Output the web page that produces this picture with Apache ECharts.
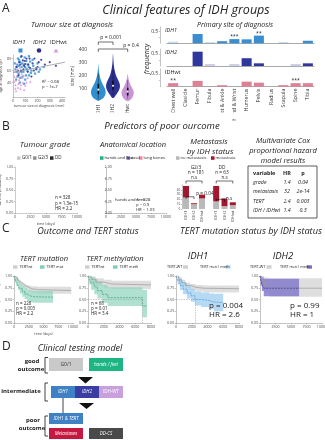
<!DOCTYPE html>
<html>
<head>
<meta charset="utf-8">
<script src="https://cdn.jsdelivr.net/npm/echarts@6/dist/echarts.min.js"></script>
<style>
html,body{margin:0;padding:0;background:#fff}
#chart{width:325px;height:440px}
</style>
</head>
<body>
<div id="chart"></div>
<script>
// ---------- data ----------
// A: tumour size (mm) vs age at diagnosis (yr)
const scatterIdh1 = [[20,62],[35,70],[45,55],[50,78],[60,48],[70,66],[75,72],[85,58],[95,82],[100,45],[110,63],[120,70],[130,52],[140,75],[150,60],[165,68],[180,55],[200,72],[220,62],[25,45],[55,40],[90,38],[40,80],[130,84],[250,66],[30,58],[65,83],[105,52],
  [15,72],[28,66],[38,50],[48,68],[58,74],[68,58],[78,50],[88,70],[98,66],[108,76],[118,60],[128,66],[145,56],[160,78],[190,64],[210,58]];
const scatterIdh2 = [[30,66],[50,74],[65,60],[80,77],[90,68],[110,80],[120,58],[140,64],[160,72],[175,80],[200,66],[230,78],[260,70],[300,74],[45,52],[70,84],[100,71],[150,50],[190,62],[350,68],
  [40,60],[60,70],[85,62],[95,76],[125,70],[135,80],[170,60],[210,74]];
const scatterIdhwt = [[10,42],[20,36],[30,50],[40,32],[50,45],[60,30],[70,55],[80,40],[100,35],[15,58],[120,48],[35,62],[90,28],[140,42],[25,26],[55,65],[75,48],
  [12,50],[22,44],[45,38],[65,36],[85,52],[110,40],[18,30],[50,58]];
const sizeAgeFit = [[0,57],[424,74]];

// A: violin profiles [size, relative density]
const violinGroups = ['IDH1','IDH2','IDHwt'];
const violinIdh1 = [[10,0.1],[25,0.55],[45,0.85],[70,1],[95,0.95],[120,0.75],[150,0.48],[180,0.28],[215,0.14],[250,0.06],[290,0.01]];
const violinIdh2 = [[30,0.08],[50,0.35],[75,0.65],[100,0.88],[125,0.95],[150,0.85],[180,0.6],[210,0.38],[250,0.2],[300,0.08],[340,0.04],[370,0.01]];
const violinIdhwt = [[10,0.2],[30,0.6],[55,0.8],[80,0.82],[105,0.62],[130,0.4],[160,0.2],[190,0.08],[215,0.01]];
const violinMedian = [95,125,80];
const violinQ1 = [60,95,50];
const violinQ3 = [140,165,110];
const violinWhiskLo = [20,50,25];
const violinWhiskHi = [220,250,170];

// A: primary site frequency
const siteCats = ['Chest wall','Clavicle','Femur','Fibula','Foot & Ankle','Hand & Wrist','Humerus','Pelvis','Radius','Scapula','Spine','Tibia'];
const siteIdh1 = [0.07,0,0.40,0.05,0.09,0.18,0.17,0.33,0,0.05,0,0.11];
const siteIdh2 = [0,0,0.59,0.08,0,0.08,0.32,0.11,0,0,0.08,0.11];
const siteIdhwt = [0.14,0,0.23,0.02,0.06,0,0.20,0.16,0,0.06,0.14,0.14];
const sigIdh1 = ['','','','','','***','','**','','','',''];
const sigIdh2 = ['','','','','','','','','','','',''];
const sigIdhwt = ['**','','','','','','','','','','***',''];
const alphaIdh1 = [0.3,1,1,0.3,1,1,1,1,1,0.3,1,1];
const alphaIdh2 = [1,1,1,0.25,1,0.25,1,1,1,1,0.25,1];
const alphaIdhwt = [1,1,1,0.6,1,1,1,1,1,1,1,1];

// B: metastasis counts
const metaGroups = ['IDH1','IDH2','IDHwt'];
const g23NoMet = [24,10,22];
const g23Met = [24,2,8];
const ddNoMet = [16,6,8];
const ddMet = [32,16,6];

// B: Cox model
const coxVars = ['grade','metastasis','TERT','IDH / IDHwt'];
const coxHR = ['1.4','32','2.4','1.4'];
const coxP = ['0.04','2e-14','0.003','0.3'];

// C: Kaplan-Meier rows [time, surv, lower, upper]
const tertMutWt = [[0,1,1,1],[300,0.96,0.93,0.99],[600,0.91,0.88,0.95],[900,0.87,0.83,0.91],[1200,0.83,0.79,0.87],[1600,0.79,0.75,0.84],[2000,0.76,0.71,0.81],[2500,0.73,0.67,0.79],[3000,0.71,0.65,0.78],[4000,0.69,0.62,0.77],[9700,0.69,0.62,0.77]];
const tertMutMut = [[0,1,1,1],[150,0.94,0.88,0.99],[400,0.86,0.78,0.95],[700,0.79,0.70,0.89],[1000,0.73,0.63,0.84],[1400,0.67,0.56,0.79],[1800,0.62,0.51,0.75],[2200,0.58,0.47,0.71],[2700,0.56,0.44,0.69],[3200,0.55,0.43,0.68],[6600,0.55,0.43,0.68]];
const tertMethWt = [[0,1,1,1],[400,0.93,0.86,0.99],[1000,0.87,0.79,0.95],[2000,0.83,0.74,0.92],[3000,0.81,0.72,0.90],[8000,0.81,0.72,0.90]];
const tertMethMeth = [[0,1,1,1],[150,0.93,0.82,1],[400,0.85,0.71,0.98],[800,0.77,0.61,0.93],[1200,0.69,0.52,0.88],[1800,0.61,0.43,0.81],[2500,0.54,0.36,0.76],[6900,0.36,0.12,0.70],[7500,0.36,0.12,0.70]];
const tertMethMedian = 6900;
const idh1Wt = [[0,1,1,1],[300,0.93,0.88,0.98],[700,0.86,0.81,0.92],[1200,0.80,0.75,0.86],[1800,0.76,0.70,0.83],[2500,0.74,0.67,0.81],[3500,0.73,0.65,0.80],[8000,0.73,0.65,0.80]];
const idh1Mut = [[0,1,1,1],[200,0.90,0.82,0.99],[500,0.80,0.70,0.92],[900,0.72,0.61,0.85],[1400,0.64,0.52,0.78],[1900,0.58,0.45,0.73],[2400,0.50,0.37,0.67],[3200,0.48,0.34,0.65],[4200,0.45,0.30,0.63],[4800,0.43,0.25,0.62],[6000,0.43,0.25,0.62]];
const idh1Median = 2400;
const idh2Wt = [[0,1,1,1],[300,0.90,0.78,1],[700,0.80,0.65,0.97],[1500,0.74,0.56,0.95],[10000,0.74,0.56,0.95]];
const idh2Mut = [[0,1,1,1],[100,0.92,0.80,1],[300,0.82,0.68,0.97],[600,0.74,0.57,0.94],[6300,0.74,0.57,0.94]];

const kmTicks10 = [0,2500,5000,7500,10000];
const kmTicks8 = [0,2000,4000,6000,8000];
const survTicks = [0,0.25,0.5,0.75,1];

// ---------- helpers ----------
const FONT = "'Open Sans', 'DejaVu Sans', sans-serif";
const AX = '#888';

function merge(a, b) {
  const out = Object.assign({}, a);
  for (const k in b) {
    if (b[k] && typeof b[k] === 'object' && !Array.isArray(b[k]) && a[k] && typeof a[k] === 'object') {
      out[k] = Object.assign({}, a[k], b[k]);
    } else out[k] = b[k];
  }
  return out;
}
function axis(gridIndex, o) {
  return merge({
    gridIndex: gridIndex,
    splitLine: {show: false},
    axisLine: {show: true, lineStyle: {color: AX, width: 0.5}},
    axisTick: {show: true, length: 1.2, lineStyle: {color: AX, width: 0.5}},
    axisLabel: {fontSize: 3.6, color: '#444', margin: 1.8, fontFamily: FONT},
    nameTextStyle: {fontSize: 3.6, color: '#444', fontFamily: FONT}
  }, o || {});
}
function T(x, y, text, size, o) {
  o = o || {};
  const font = (o.italic ? 'italic ' : '') + (o.bold ? 'bold ' : '') + size + 'px ' + FONT;
  return {
    type: 'text', z: 60, x: x, y: y, rotation: o.rot || 0,
    style: {x: 0, y: 0, text: text, font: font, fill: o.color || '#222',
      textAlign: o.align || 'center', align: o.align || 'center',
      textVerticalAlign: 'middle', verticalAlign: 'middle'}
  };
}
function R(x, y, w, h, fill, o) {
  o = o || {};
  return {type: 'rect', z: o.z || 55, shape: {x: x, y: y, width: w, height: h},
    style: {fill: fill, stroke: o.stroke || null, lineWidth: o.lw || 0}};
}
function P(points, o) {
  o = o || {};
  return {type: 'polyline', z: 58, shape: {points: points}, style: {stroke: o.color || '#111', lineWidth: o.lw || 0.6, fill: null}};
}
function TRI(points, fill) {
  return {type: 'polygon', z: 58, shape: {points: points}, style: {fill: fill}};
}

function kmBand(g, rows, color, opacity) {
  return {
    type: 'custom', xAxisIndex: g, yAxisIndex: g, clip: true, silent: true, z: 1,
    data: rows,
    renderItem: function (params, api) {
      if (params.dataIndex !== 0) return null;
      const top = [], bot = [];
      for (let i = 0; i < rows.length - 1; i++) {
        top.push(api.coord([rows[i][0], rows[i][3]]), api.coord([rows[i + 1][0], rows[i][3]]));
        bot.push(api.coord([rows[i][0], rows[i][2]]), api.coord([rows[i + 1][0], rows[i][2]]));
      }
      return {type: 'polygon', shape: {points: top.concat(bot.reverse())}, style: {fill: color, opacity: opacity}};
    }
  };
}
function kmLine(g, rows, color, dashed, median) {
  const s = {
    type: 'line', xAxisIndex: g, yAxisIndex: g, step: 'end', symbol: 'none', z: 3, silent: true,
    data: rows.map(r => [r[0], r[1]]),
    lineStyle: {color: color, width: 0.7, type: dashed ? [2, 1] : 'solid'}
  };
  if (median != null) {
    s.markLine = {silent: true, symbol: 'none', label: {show: false},
      lineStyle: {color: '#999', width: 0.5, type: [1.5, 1]},
      data: [[{coord: [0, 0.5]}, {coord: [median, 0.5]}], [{coord: [median, 0.5]}, {coord: [median, 0]}]]};
  }
  return s;
}
function siteBar(g, vals, alpha, sig, color) {
  return {
    type: 'bar', xAxisIndex: g, yAxisIndex: g, barCategoryGap: '18%', silent: true,
    label: {position: 'top', distance: 0, fontSize: 5, color: '#222', fontFamily: FONT},
    data: vals.map((v, i) => ({value: v, itemStyle: {color: color, opacity: alpha[i]},
      label: {show: !!sig[i], formatter: sig[i]}}))
  };
}

// ---------- grids ----------
const grids = [
  {left: 13, top: 55, width: 52, height: 42},      // 0 scatter
  {left: 91, top: 50, width: 44, height: 52},      // 1 violin
  {left: 167, top: 27, width: 147, height: 16.3},  // 2 site IDH1
  {left: 167, top: 49, width: 147, height: 17},    // 3 site IDH2
  {left: 167, top: 69, width: 147, height: 17.7},  // 4 site IDHwt
  {left: 15, top: 167, width: 62, height: 46},     // 5 KM grade
  {left: 106, top: 167, width: 60, height: 46},    // 6 KM location
  {left: 182, top: 185, width: 24, height: 24},    // 7 metastasis G2/3
  {left: 212, top: 185, width: 25, height: 24},    // 8 metastasis DD
  {left: 14, top: 276, width: 59, height: 47},     // 9 TERT mutation
  {left: 88, top: 276, width: 63, height: 47},     // 10 TERT methylation
  {left: 176, top: 276, width: 63, height: 47},    // 11 IDH1
  {left: 260, top: 276, width: 62, height: 47}     // 12 IDH2
].map(g => Object.assign({show: false, containLabel: false, outerBoundsMode: 'none'}, g));

const survY = g => axis(g, {type: 'value', min: 0, max: 1,
  axisLabel: {customValues: survTicks, formatter: v => v.toFixed(2)}, axisTick: {customValues: survTicks}});
const timeX = (g, max, ticks) => axis(g, {type: 'value', min: 0, max: max,
  axisLabel: {customValues: ticks, formatter: v => String(v)}, axisTick: {customValues: ticks}});
const siteX = (g, showLabel) => axis(g, {type: 'category', data: siteCats,
  axisTick: {show: false}, axisLine: {lineStyle: {color: '#aaa'}},
  axisLabel: {show: showLabel, rotate: 90, fontSize: 5.2, color: '#333', margin: 2, interval: 0}});
const siteY = g => axis(g, {type: 'value', min: 0, max: 0.7, offset: 7,
  axisLabel: {customValues: [0.5], fontSize: 5, color: '#333'}, axisTick: {customValues: [0.25, 0.5]}});
const metaX = g => axis(g, {type: 'category', data: metaGroups, axisTick: {show: false},
  axisLine: {show: false}, axisLabel: {rotate: 90, fontSize: 4, margin: 1.5, color: '#333', interval: 0}});

const xAxes = [
  axis(0, {type: 'value', min: 0, max: 424, name: 'tumour size at diagnosis (mm)', nameLocation: 'middle', nameGap: 5,
    axisLabel: {customValues: [0,100,200,300,400]}, axisTick: {customValues: [0,100,200,300,400]}}),
  axis(1, {type: 'category', data: violinGroups, axisLine: {show: false}, axisTick: {show: false},
    axisLabel: {rotate: 90, fontSize: 5, margin: 2, color: '#333', interval: 0}}),
  siteX(2, false), siteX(3, false), siteX(4, true),
  merge(timeX(5, 10000, kmTicks10), {name: 'time (days)', nameLocation: 'middle', nameGap: 9, axisLine: {lineStyle: {color: '#ccc'}}}),
  timeX(6, 10000, kmTicks10),
  metaX(7), metaX(8),
  merge(timeX(9, 10000, kmTicks10), {name: 'time (days)', nameLocation: 'middle', nameGap: 9}),
  timeX(10, 8000, kmTicks8),
  timeX(11, 8000, kmTicks8),
  timeX(12, 10000, kmTicks10)
];
const yAxes = [
  axis(0, {type: 'value', min: 16, max: 86, name: 'age at diagnosis (yr)', nameLocation: 'middle', nameGap: 7, nameRotate: 90,
    axisLabel: {customValues: [40,60,80]}, axisTick: {customValues: [40,60,80]}}),
  axis(1, {type: 'value', min: 0, max: 400, name: 'size (mm)', nameLocation: 'middle', nameGap: 15, nameRotate: 90,
    axisLine: {show: false}, axisTick: {show: false},
    nameTextStyle: {fontSize: 4.5, color: '#333'},
    axisLabel: {customValues: [100,200,300,400], fontSize: 4.8, color: '#333', margin: 4}}),
  siteY(2), siteY(3), siteY(4),
  merge(survY(5), {name: 'survival probability', nameLocation: 'middle', nameGap: 10, nameRotate: 90, axisLine: {lineStyle: {color: '#ccc'}}}),
  merge(survY(6), {offset: 3, axisLabel: {inside: true}}),
  axis(7, {type: 'value', min: 0, max: 50, axisLabel: {customValues: [0,10,20,30,40], fontSize: 3}, axisTick: {customValues: [0,10,20,30,40]}}),
  axis(8, {type: 'value', min: 0, max: 50, show: false}),
  merge(survY(9), {name: 'survival probability', nameLocation: 'middle', nameGap: 9, nameRotate: 90}),
  survY(10), survY(11), survY(12)
];

// ---------- series ----------
const C_IDH1 = '#3a8fd3', C_IDH2 = '#2d3192', C_WT = '#d99ad6';
const GRAYB = '#d6d6d6', GRAYL = '#9a9a9a';
const series = [
  {type: 'scatter', xAxisIndex: 0, yAxisIndex: 0, data: scatterIdh1, symbol: 'rect', symbolSize: 2.2, itemStyle: {color: C_IDH1, opacity: 0.85}},
  {type: 'scatter', xAxisIndex: 0, yAxisIndex: 0, data: scatterIdh2, symbol: 'circle', symbolSize: 2.2, itemStyle: {color: C_IDH2, opacity: 0.85}},
  {type: 'scatter', xAxisIndex: 0, yAxisIndex: 0, data: scatterIdhwt, symbol: 'triangle', symbolSize: 2.5, itemStyle: {color: C_WT, opacity: 0.9}},
  {type: 'line', xAxisIndex: 0, yAxisIndex: 0, data: sizeAgeFit, symbol: 'none', silent: true, lineStyle: {color: '#999', width: 0.8}},
  {
    type: 'custom', xAxisIndex: 1, yAxisIndex: 1, data: [[0],[1],[2]], silent: true,
    renderItem: function (params, api) {
      const i = api.value(0);
      const prof = [violinIdh1, violinIdh2, violinIdhwt][i];
      const color = ['#2f8fd1', '#2d3192', '#c994d8'][i];
      const cx = api.coord([i, 0])[0];
      const half = api.size([1, 0])[0] * 0.5;
      const pts = [];
      prof.forEach(p => pts.push([cx - p[1] * half, api.coord([i, p[0]])[1]]));
      for (let k = prof.length - 1; k >= 0; k--) pts.push([cx + prof[k][1] * half, api.coord([i, prof[k][0]])[1]]);
      const q1 = api.coord([i, violinQ1[i]])[1], q3 = api.coord([i, violinQ3[i]])[1];
      const lo = api.coord([i, violinWhiskLo[i]])[1], hi = api.coord([i, violinWhiskHi[i]])[1];
      const md = api.coord([i, violinMedian[i]])[1];
      return {type: 'group', children: [
        {type: 'polygon', shape: {points: pts, smooth: 0.3}, style: {fill: color}},
        {type: 'line', shape: {x1: cx, y1: lo, x2: cx, y2: hi}, style: {stroke: '#111', lineWidth: 0.4}},
        {type: 'rect', shape: {x: cx - 0.8, y: q3, width: 1.6, height: q1 - q3}, style: {fill: '#111'}},
        {type: 'circle', shape: {cx: cx, cy: md, r: 1.1}, style: {fill: '#fff'}}
      ]};
    }
  },
  siteBar(2, siteIdh1, alphaIdh1, sigIdh1, '#3a8dcf'),
  siteBar(3, siteIdh2, alphaIdh2, sigIdh2, '#2f379c'),
  siteBar(4, siteIdhwt, alphaIdhwt, sigIdhwt, '#dc8196'),
  // metastasis bars (the B survival axes are shown empty, as in the figure)
  {type: 'bar', xAxisIndex: 7, yAxisIndex: 7, stack: 'g23', barWidth: 6, data: g23NoMet, itemStyle: {color: '#b9b9b9'}, silent: true},
  {type: 'bar', xAxisIndex: 7, yAxisIndex: 7, stack: 'g23', barWidth: 6, data: g23Met, itemStyle: {color: '#a5162e'}, silent: true},
  {type: 'bar', xAxisIndex: 8, yAxisIndex: 8, stack: 'dd', barWidth: 6, data: ddNoMet, itemStyle: {color: '#b9b9b9'}, silent: true},
  {type: 'bar', xAxisIndex: 8, yAxisIndex: 8, stack: 'dd', barWidth: 6, data: ddMet, itemStyle: {color: '#a5162e'}, silent: true},
  // C: survival
  kmBand(9, tertMutWt, GRAYB, 0.8), kmBand(9, tertMutMut, '#8fd3bb', 0.7),
  kmLine(9, tertMutWt, GRAYL, false), kmLine(9, tertMutMut, '#3c9f84', true),
  kmBand(10, tertMethWt, GRAYB, 0.8), kmBand(10, tertMethMeth, '#8fd3bb', 0.7),
  kmLine(10, tertMethWt, GRAYL, false), kmLine(10, tertMethMeth, '#3c9f84', true, tertMethMedian),
  kmBand(11, idh1Wt, GRAYB, 0.8), kmBand(11, idh1Mut, '#9fcdf0', 0.75),
  kmLine(11, idh1Wt, GRAYL, false), kmLine(11, idh1Mut, '#4a95d4', true, idh1Median),
  kmBand(12, idh2Wt, GRAYB, 0.8), kmBand(12, idh2Mut, '#7e74cb', 0.8),
  kmLine(12, idh2Wt, GRAYL, false), kmLine(12, idh2Mut, '#362e92', true)
];

// ---------- annotations ----------
const g = [];
// A
g.push(T(2, 9, 'A', 12, {align: 'left'}));
g.push(T(186, 10, 'Clinical features of IDH groups', 12.5, {italic: true}));
g.push(T(72, 25, 'Tumour size at diagnosis', 7.5, {italic: true}));
g.push(T(19, 42.5, 'IDH1', 6, {italic: true}), T(39.5, 42.5, 'IDH2', 6, {italic: true}), T(58.5, 42.5, 'IDHwt', 6));
g.push(R(18.5, 48.5, 4, 4, C_IDH1), {type: 'circle', z: 58, shape: {cx: 39, cy: 50.5, r: 2.3}, style: {fill: C_IDH2}},
  TRI([[53.5, 52.5], [58.5, 52.5], [56, 48.5]], C_WT));
g.push(T(42, 82, 'R\u00b2 = 0.08', 4.2, {align: 'left'}), T(42, 87, 'p = 1e-7', 4.2, {align: 'left'}));
g.push(P([[98.3, 45], [98.3, 42], [113, 42], [113, 45]]), T(111, 37.5, 'p = 0.001', 5));
g.push(P([[98.3, 52], [98.3, 49], [127.7, 49], [127.7, 52]]), T(131, 46, 'p = 0.4', 5));
g.push(T(235, 25, 'Primary site of diagnosis', 7, {italic: true}));
g.push(T(147, 59, 'frequency', 7, {italic: true, rot: Math.PI / 2}));
g.push(T(165, 30, 'IDH1', 5.5, {italic: true, align: 'left'}), T(165, 52, 'IDH2', 5.5, {italic: true, align: 'left'}),
  T(165, 72, 'IDHwt', 5.5, {align: 'left'}));
g.push(R(0, 112.5, 325, 6.5, '#fff', {z: 50}));
// B
g.push(T(2, 127, 'B', 12, {align: 'left'}));
g.push(T(162, 126, 'Predictors of poor ourcome', 9.5, {italic: true}));
g.push(T(45, 144.5, 'Tumour grade', 8, {italic: true}));
g.push(R(17, 156.3, 3.5, 3.5, '#c8c8c8'), T(22, 158, 'G0/1', 4.5, {align: 'left'}),
  R(33, 156.3, 3.5, 3.5, '#8f8f8f'), T(38, 158, 'G2/3', 4.5, {align: 'left'}),
  R(50, 156.3, 3.5, 3.5, '#2b2b2b'), T(55, 158, 'DD', 4.5, {align: 'left'}));
g.push(T(55, 198, 'n = 328', 4.5, {align: 'left'}), T(55, 203.5, 'p = 1.3e-15', 4.5, {align: 'left'}),
  T(55, 209, 'HR = 2.2', 4.5, {align: 'left'}));
g.push(T(133, 144.5, 'Anatomical location', 7.5, {italic: true}));
g.push(R(100, 156.3, 3.5, 3.5, '#19b386'), T(104.5, 158, 'hands and feet', 4.2, {align: 'left'}),
  R(126.5, 156.3, 3.5, 3.5, '#7b6cc4'), T(131, 158, 'axial', 4.2, {align: 'left'}),
  R(139, 156.3, 3.5, 3.5, '#f28aa5'), T(143.5, 158, 'long bones', 4.2, {align: 'left'}));
g.push(T(115, 200, 'hands and feet:', 4.2, {align: 'left'}), T(136, 200, 'n = 328', 4.2, {align: 'left'}),
  T(136, 205, 'p = 0.9', 4.2, {align: 'left'}), T(136, 210, 'HR = 1.03', 4.2, {align: 'left'}));
g.push(T(209, 141.5, 'Metastasis', 8, {italic: true}), T(210, 151.5, 'by IDH status', 8, {italic: true}));
g.push(R(176, 156.3, 3.5, 3.5, '#b9b9b9'), T(180.5, 158, 'no metastasis', 4, {align: 'left'}),
  R(211, 156.3, 3.5, 3.5, '#a5162e'), T(215.5, 158, 'metastasis', 4, {align: 'left'}));
g.push(T(196, 167.5, 'G2/3', 4.8), T(196, 173, 'n = 181', 4.8), T(222, 167.5, 'DD', 4.8), T(222, 173, 'n = 63', 4.8));
g.push(P([[186, 183.5], [186, 181], [202, 181], [202, 183.5]]), T(194, 177.5, 'n.s', 4.5));
g.push(P([[216.2, 183.5], [216.2, 181], [232.8, 181], [232.8, 183.5]]), T(224.5, 177.5, 'n.s', 4.5));
g.push(P([[186, 199], [186, 196.8], [194, 196.8], [194, 199]]), T(205, 193.5, 'p = 0.04', 4.8));
g.push(P([[216.2, 201.5], [216.2, 199.3], [224.5, 199.3], [224.5, 201.5]]), T(229, 198.5, 'n.s', 4.5));
g.push(T(283, 141, 'Multivariate Cox', 7.5, {italic: true}), T(283, 151, 'proportional hazard', 7.5, {italic: true}),
  T(283, 160.5, 'model results', 7.5, {italic: true}));
g.push(R(248, 166, 69, 52, null, {stroke: '#333', lw: 0.8}));
g.push(T(253, 173, 'variable', 5.5, {bold: true, align: 'left'}), T(287, 173, 'HR', 5.5, {bold: true}), T(303, 173, 'p', 5.5, {bold: true}));
coxVars.forEach((v, k) => {
  const y = 182.5 + k * 9.3;
  g.push(T(253, y, v, 5.3, {italic: true, align: 'left'}), T(287, y, coxHR[k], 5.3, {italic: true}), T(303, y, coxP[k], 5.3, {italic: true}));
});
// C
g.push(T(2, 229, 'C', 12, {align: 'left'}));
g.push(T(88, 231, 'Outcome and TERT status', 9, {italic: true}));
g.push(T(251, 231, 'TERT mutation status by IDH status', 9.2, {italic: true}));
g.push(T(44, 259, 'TERT mutation', 7.5, {italic: true}), T(115, 259, 'TERT methylation', 7.5, {italic: true}));
g.push(T(198, 256, 'IDH1', 9.5, {italic: true}), T(283, 256, 'IDH2', 9.5, {italic: true}));
const LY = 267;
g.push(R(13, LY - 1.7, 4.5, 3.4, '#cfcfcf'), T(19.5, LY, 'TERTwt', 3.8, {align: 'left'}),
  R(40, LY - 1.7, 4.5, 3.4, '#7fcfb3'), T(46.5, LY, 'TERT mut', 3.8, {align: 'left'}));
g.push(R(85, LY - 1.7, 4.5, 3.4, '#cfcfcf'), T(91.5, LY, 'TERTwt', 3.8, {align: 'left'}),
  R(113, LY - 1.7, 4.5, 3.4, '#7fcfb3'), T(119.5, LY, 'TERT meth', 3.8, {align: 'left'}));
g.push(T(167, LY, 'TERT-WT', 3.8, {align: 'left'}), R(183, LY - 1.7, 5, 3.4, '#cfcfcf'),
  T(200, LY, 'TERT mut / meth', 3.8, {align: 'left'}), R(225.5, LY - 1.7, 5, 3.4, '#b8dcf5'));
g.push(T(250, LY, 'TERT-WT', 3.8, {align: 'left'}), R(266.5, LY - 1.7, 5, 3.4, '#cfcfcf'),
  T(280, LY, 'TERT mut / meth', 3.8, {align: 'left'}), R(307, LY - 1.7, 5, 3.4, '#7d72c8'));
g.push(T(16, 304, 'n = 228', 4.5, {align: 'left'}), T(16, 309, 'p = 0.003', 4.5, {align: 'left'}), T(16, 314, 'HR = 2.2', 4.5, {align: 'left'}));
g.push(T(91, 304, 'n = 68', 4.5, {align: 'left'}), T(91, 309, 'p = 0.01', 4.5, {align: 'left'}), T(91, 314, 'HR = 3.4', 4.5, {align: 'left'}));
g.push(T(209, 306, 'p = 0.004', 8, {align: 'left'}), T(209, 315, 'HR = 2.6', 8, {align: 'left'}));
g.push(T(290, 306, 'p = 0.99', 8, {align: 'left'}), T(290, 315, 'HR = 1', 8, {align: 'left'}));
// D
g.push(T(2, 347, 'D', 12, {align: 'left'}));
g.push(T(80, 348, 'Clinical testing model', 9, {italic: true}));
g.push(T(32, 361.5, 'good', 6, {bold: true}), T(31, 369.5, 'outcome', 6, {bold: true}));
g.push(P([[48, 357.5], [45, 357.5], [45, 373], [48, 373]], {lw: 0.8}));
g.push(R(49, 358, 34, 13, '#c9c9c9'), T(66, 364.5, 'G0/1', 5, {color: '#333'}));
g.push(R(89, 358, 34, 13, '#1db584'), T(106, 364.5, 'hands / feet', 4.6, {italic: true, color: '#fff'}));
g.push(TRI([[78, 377], [93, 377], [85.5, 383.5]], '#111'));
g.push(T(21, 391.5, 'intermediate', 6, {bold: true}));
g.push(P([[48, 383], [45, 383], [45, 401], [48, 401]], {lw: 0.8}));
g.push(R(51, 386, 24, 12, '#3e81c4'), T(63, 392, 'IDH1', 4.6, {italic: true, color: '#fff'}));
g.push(R(75, 386, 24, 12, '#3a3da1'), T(87, 392, 'IDH2', 4.6, {italic: true, color: '#fff'}));
g.push(R(99, 386, 24, 12, '#c8a1dc'), T(111, 392, 'IDH-WT', 4.6, {color: '#fff'}));
g.push(TRI([[79, 403], [94, 403], [86.5, 409]], '#111'));
g.push(P([[63, 398], [63, 413]], {lw: 0.8}));
g.push(T(33, 420, 'poor', 6, {bold: true}), T(32, 428, 'outcome', 6, {bold: true}));
g.push(P([[48, 416], [45, 416], [45, 436], [48, 436]], {lw: 0.8}));
g.push(R(49, 413, 34, 11, '#3e81c4'), T(66, 418.5, 'IDH1 & TERT', 4.6, {italic: true, color: '#fff'}));
g.push(R(49, 428, 34, 11, '#c5173f'), T(66, 433.5, 'Metastases', 4.6, {italic: true, color: '#fff'}));
g.push(R(89, 428, 34, 11, '#4a4a4a'), T(106, 433.5, 'DD-CS', 4.6, {italic: true, color: '#fff'}));

const chart = echarts.init(document.getElementById('chart'), null, {renderer: 'canvas'});
chart.setOption({
  animation: false,
  backgroundColor: '#fff',
  textStyle: {fontFamily: FONT},
  grid: grids,
  xAxis: xAxes,
  yAxis: yAxes,
  series: series,
  graphic: {elements: g}
});
</script>
</body>
</html>
